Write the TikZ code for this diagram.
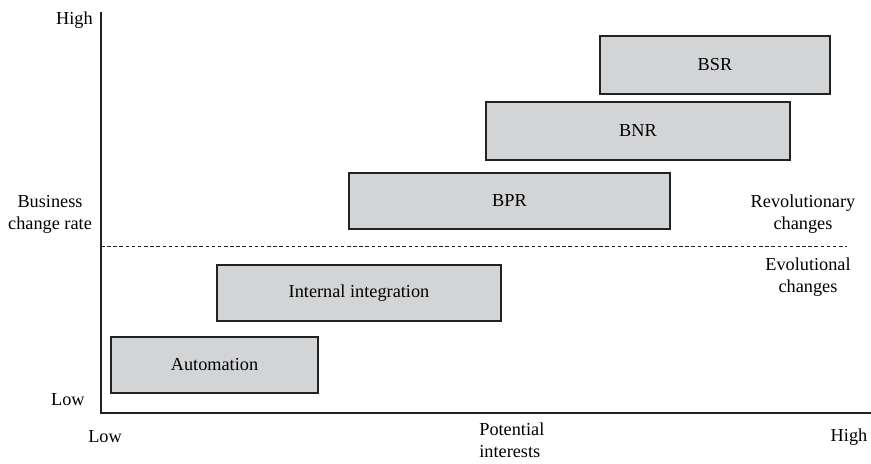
\documentclass[tikz,border=0pt]{standalone}
\usepackage{fontspec}
\setmainfont{Liberation Serif}
\definecolor{boxgray}{HTML}{D3D4D6}
\definecolor{linegray}{HTML}{222222}
\tikzset{
  phase/.style={draw=linegray,fill=boxgray,line width=1pt,minimum height=1.12cm,inner sep=0pt},
  lbl/.style={align=center,inner sep=0pt}
}
\begin{document}
\begin{tikzpicture}[font=\fontsize{10.4}{12.5}\selectfont]
  \useasboundingbox (0,0) rectangle (17.42,9.28);
  % axes
  \coordinate (top) at (2.02,9.04);
  \coordinate (origin) at (2.02,1.02);
  \coordinate (right) at (17.42,1.02);
  \draw[linegray,line width=1.1pt] (top) -- (origin) -- (right);
  % boundary between the two kinds of change
  \coordinate (dashl) at (2.02,4.36);
  \coordinate (dashr) at (16.94,4.36);
  \draw[linegray,line width=0.5pt,dash pattern=on 2pt off 1.5pt] (dashl) -- (dashr);
  % phases
  \node[phase,minimum width=4.14cm] (auto) at (4.29,1.98) {Automation};
  \node[phase,minimum width=5.68cm] (integ) at (7.18,3.42) {Internal integration};
  \node[phase,minimum width=6.42cm] (bpr) at (10.19,5.26) {BPR};
  \node[phase,minimum width=6.08cm,minimum height=1.16cm] (bnr) at (12.76,6.66) {BNR};
  \node[phase,minimum width=4.60cm,minimum height=1.16cm] (bsr) at (14.30,7.98) {BSR};
  % axis labels
  \node[lbl,anchor=east] (yhigh) at (1.86,8.88) {High};
  \node[lbl,anchor=east] (ylow) at (1.70,1.28) {Low};
  \node[lbl] (ytitle) at (1.0,5.0) {Business\\change rate};
  \node[lbl] (xlow) at (2.1,0.54) {Low};
  \node[lbl,align=left,anchor=west] (xtitle) at (9.58,0.48) {Potential\\interests};
  \node[lbl] (xhigh) at (16.98,0.54) {High};
  \node[lbl] (revo) at (16.06,5.0) {Revolutionary\\changes};
  \node[lbl] (evo) at (16.16,3.74) {Evolutional\\changes};
\end{tikzpicture}
\end{document}
